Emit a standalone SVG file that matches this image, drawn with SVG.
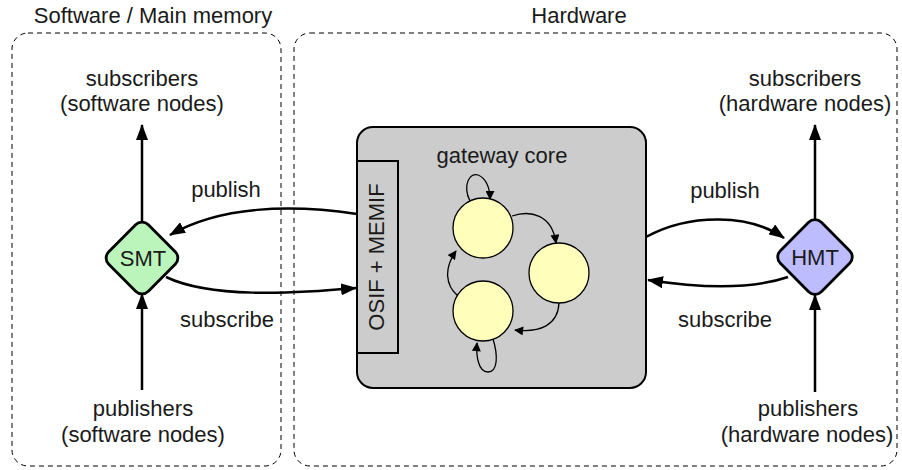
<svg xmlns="http://www.w3.org/2000/svg" width="902" height="470" viewBox="0 0 902 470">
<defs>
<marker id="ah" viewBox="0 0 16 12" refX="15" refY="6" markerWidth="16" markerHeight="12" markerUnits="userSpaceOnUse" orient="auto"><path d="M0,0 L16,6 L0,12 z" fill="#000"/></marker>
<marker id="ahs" viewBox="0 0 10 10" refX="9" refY="5" markerWidth="10" markerHeight="9" markerUnits="userSpaceOnUse" orient="auto"><path d="M0,0 L10,5 L0,10 z" fill="#000"/></marker>
<style>
text{font-family:"Liberation Sans",Arial,Helvetica,sans-serif;font-size:22px;fill:#1a1a1a;text-anchor:middle}
.region{fill:none;stroke:#000;stroke-width:1;stroke-dasharray:5,4}
.conn{fill:none;stroke:#000;stroke-width:2.5;marker-end:url(#ah)}
.loop{fill:none;stroke:#000;stroke-width:1.3;marker-end:url(#ahs)}
.state{fill:#ffffbb;stroke:#000;stroke-width:1.3}
</style>
</defs>
<g id="software-region">
<rect class="region" x="12" y="33" width="269" height="433" rx="16"/>
<text x="153" y="23">Software / Main memory</text>
</g>
<g id="hardware-region">
<rect class="region" x="294" y="33" width="603" height="433" rx="16"/>
<text x="579" y="23">Hardware</text>
</g>
<g id="gateway">
<rect x="357" y="127" width="289" height="261" rx="16" fill="#cccccc" stroke="#000" stroke-width="2"/>
<text x="502" y="163">gateway core</text>
</g>
<g id="osif">
<rect x="357" y="161" width="41" height="192" fill="#cccccc" stroke="#000" stroke-width="2"/>
<text transform="translate(384,257) rotate(-90)">OSIF + MEMIF</text>
</g>
<g id="state1"><circle class="state" cx="483" cy="228" r="30"/></g>
<g id="state2"><circle class="state" cx="559" cy="273" r="30"/></g>
<g id="state3"><circle class="state" cx="483" cy="311" r="30"/></g>
<g id="smt">
<rect x="114" y="230" width="56" height="56" rx="9" transform="rotate(45 142 258)" fill="#bbf5bb" stroke="#000" stroke-width="2.8"/>
<text x="143" y="266">SMT</text>
</g>
<g id="hmt">
<rect x="786" y="228" width="58" height="58" rx="9" transform="rotate(45 815 257)" fill="#bcbcff" stroke="#000" stroke-width="2.8"/>
<text x="815" y="265">HMT</text>
</g>
<g id="labels">
<text x="142" y="86">subscribers</text>
<text x="142" y="111">(software nodes)</text>
<text x="143" y="416">publishers</text>
<text x="143" y="442">(software nodes)</text>
<text x="805" y="86">subscribers</text>
<text x="805" y="111">(hardware nodes)</text>
<text x="808" y="416">publishers</text>
<text x="807" y="442">(hardware nodes)</text>
<text x="226" y="197">publish</text>
<text x="227" y="327">subscribe</text>
<text x="725" y="198">publish</text>
<text x="725" y="327">subscribe</text>
</g>
<g id="connectors">
<path class="conn" d="M142,222 L142,125"/>
<path class="conn" d="M142,390 L142,294"/>
<path class="conn" d="M815,220 L815,125"/>
<path class="conn" d="M815,392 L815,295"/>
<path class="conn" d="M357,214 C290,204 220,206 170,235"/>
<path class="conn" d="M166,277 C210,298 290,294 356,288"/>
<path class="conn" d="M646,237 C690,213 750,214 784,238"/>
<path class="conn" d="M788,277 C750,290 700,288 648,280"/>
<path class="loop" d="M470,201 C462,185 470,172 478,175 C486,178 490,188 490,199"/>
<path class="loop" d="M512,216 C530,210 552,214 556,243"/>
<path class="loop" d="M559,303 C558,325 540,333 515,330"/>
<path class="loop" d="M458,296 C445,285 444,268 456,251"/>
<path class="loop" d="M493,339 C498,355 498,372 488,372 C478,372 476,355 477,343"/>
</g>
</svg>
